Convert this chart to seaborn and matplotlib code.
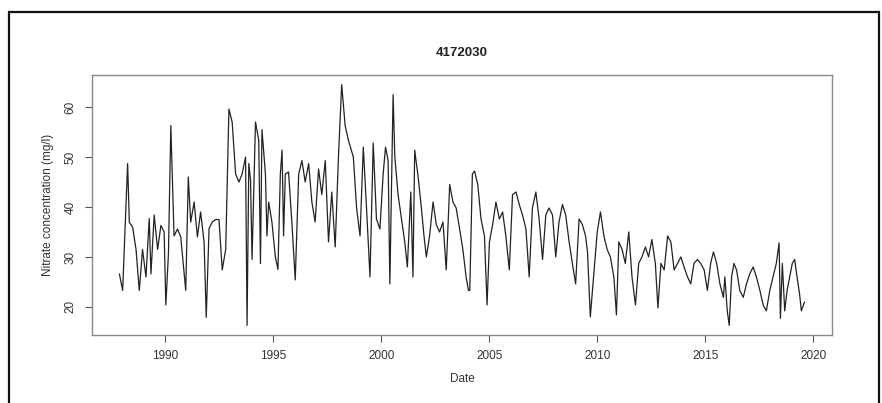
import matplotlib
matplotlib.use("Agg")
import matplotlib.pyplot as plt
import seaborn as sns
import pandas as pd
from matplotlib.patches import Rectangle

title = "4172030"
x_label = "Date"
y_label = "Nitrate concentration (mg/l)"
x_ticks = [1990, 1995, 2000, 2005, 2010, 2015, 2020]
y_ticks = [20, 30, 40, 50, 60]

dates = [
    1987.88, 1988.03, 1988.26, 1988.34, 1988.49, 1988.65, 1988.80, 1988.95, 1989.11, 1989.26,
    1989.34, 1989.49, 1989.65, 1989.80, 1989.95, 1990.03, 1990.15, 1990.26, 1990.41, 1990.57,
    1990.72, 1990.95, 1991.07, 1991.18, 1991.34, 1991.49, 1991.64, 1991.80, 1991.90, 1992.03,
    1992.18, 1992.34, 1992.49, 1992.64, 1992.80, 1992.95,
    1993.10, 1993.26, 1993.41, 1993.56, 1993.72, 1993.79, 1993.87, 1993.95, 1994.02, 1994.18,
    1994.33, 1994.41, 1994.48, 1994.64, 1994.71, 1994.79, 1994.94, 1995.10, 1995.22, 1995.33,
    1995.41, 1995.48, 1995.56, 1995.71, 1995.87, 1996.02, 1996.18, 1996.33, 1996.48, 1996.64,
    1996.79, 1996.94, 1997.10, 1997.25, 1997.41, 1997.56, 1997.71, 1997.87, 1998.02, 1998.17,
    1998.33, 1998.48,
    1998.71, 1998.86, 1999.02, 1999.17, 1999.32, 1999.48, 1999.63, 1999.78, 1999.94, 2000.09,
    2000.20, 2000.32, 2000.40, 2000.55, 2000.63, 2000.78, 2000.94, 2001.09, 2001.21, 2001.37,
    2001.47, 2001.55, 2001.71, 2001.86, 2001.98, 2002.09, 2002.24, 2002.40, 2002.55, 2002.70,
    2002.86, 2003.01, 2003.17, 2003.32, 2003.47, 2003.63, 2003.78, 2003.93, 2004.04, 2004.10,
    2004.22,
    2004.32, 2004.47, 2004.62, 2004.78, 2004.90, 2005.01, 2005.16, 2005.31, 2005.47, 2005.62,
    2005.77, 2005.93, 2006.08, 2006.24, 2006.39, 2006.54, 2006.70, 2006.85, 2007.00, 2007.16,
    2007.31, 2007.47, 2007.62, 2007.77, 2007.93, 2008.08, 2008.23, 2008.39, 2008.54, 2008.70,
    2008.85, 2009.00, 2009.16, 2009.31, 2009.46, 2009.55, 2009.68,
    2010.00, 2010.15, 2010.31, 2010.46, 2010.61, 2010.77, 2010.89, 2011.00, 2011.15, 2011.30,
    2011.46, 2011.61, 2011.77, 2011.92, 2012.07, 2012.23, 2012.38, 2012.53, 2012.69, 2012.81,
    2012.95, 2013.10, 2013.26, 2013.41, 2013.56, 2013.72, 2013.87, 2014.02, 2014.18, 2014.33,
    2014.48, 2014.64, 2014.79, 2014.95, 2015.10, 2015.25,
    2015.38, 2015.53, 2015.68, 2015.84, 2015.91, 2016.02, 2016.11, 2016.22, 2016.33, 2016.45,
    2016.60, 2016.76, 2016.91, 2017.06, 2017.22, 2017.37, 2017.53, 2017.68, 2017.83, 2017.99,
    2018.14, 2018.29, 2018.42, 2018.48, 2018.57, 2018.68, 2018.79, 2018.91, 2019.03, 2019.14,
    2019.25, 2019.37, 2019.45, 2019.60,
]

nitrate = [
    26.6, 23.3, 48.7, 36.9, 36.0, 31.5, 23.3, 31.5, 26.0, 37.7,
    26.6, 38.4, 31.5, 36.3, 35.0, 20.4, 30.7, 56.3, 34.2, 35.6,
    34.0, 23.3, 46.0, 37.0, 41.0, 34.0, 39.0, 33.0, 17.9, 35.7,
    37.0, 37.5, 37.5, 27.4, 31.5, 59.6,
    57.0, 46.6, 45.0, 46.6, 50.0, 16.3, 48.7, 45.5, 29.5, 57.0,
    53.4, 28.7, 55.5, 46.6, 34.2, 41.0, 37.0, 30.0, 27.5, 46.6,
    51.4, 34.2, 46.6, 47.0, 36.5, 25.4, 46.6, 49.3, 45.0, 48.7,
    41.0, 37.0, 47.6, 42.5, 49.3, 33.0, 43.0, 32.0, 50.0, 64.5,
    56.3, 53.4,
    50.0, 39.8, 34.2, 52.0, 39.8, 26.0, 52.8, 37.6, 35.6, 46.6,
    52.0, 49.3, 24.6, 62.5, 50.0, 42.5, 37.6, 33.0, 28.0, 43.0,
    26.0, 51.4, 46.0, 39.8, 34.2, 30.0, 34.2, 41.0, 36.5, 35.0,
    37.0, 27.4, 44.5, 41.0, 39.8, 35.6, 31.5, 26.0, 23.3, 23.3,
    46.6,
    47.2, 44.5, 37.6, 34.2, 20.4, 33.0, 36.5, 41.0, 37.6, 39.0,
    34.2, 27.4, 42.5, 43.0, 40.5, 38.4, 35.6, 26.0, 39.8, 43.0,
    37.6, 29.5, 38.4, 39.8, 38.4, 30.0, 37.0, 40.5, 38.4, 33.0,
    28.7, 24.6, 37.6, 36.5, 34.2, 31.0, 18.0,
    35.0, 39.0, 34.2, 31.5, 30.0, 26.0, 18.4, 33.0, 31.5, 28.7,
    35.0, 26.0, 20.4, 28.7, 30.0, 32.0, 30.0, 33.5, 28.7, 19.8,
    28.7, 27.4, 34.2, 33.0, 27.4, 28.7, 30.0, 28.0, 26.0, 24.6,
    28.7, 29.5, 28.7, 27.4, 23.3, 28.7,
    31.0, 28.7, 24.6, 21.9, 26.0, 19.2, 16.3, 26.0, 28.7, 27.4,
    23.3, 21.9, 24.6, 26.6, 28.0, 26.0, 23.3, 20.4, 19.2, 23.3,
    26.0, 28.7, 32.8, 17.7, 28.7, 19.2, 23.3, 26.0, 28.7, 29.5,
    26.0, 22.5, 19.2, 21.0,
]

df = pd.DataFrame({"Date": dates, "Nitrate": nitrate})

sns.set_theme(style="white")
plt.rcParams["font.family"] = ["Liberation Sans", "DejaVu Sans"]

fig = plt.figure(figsize=(8.82, 4.03), dpi=100)
ax = fig.add_axes([92 / 882, 1 - 335 / 403, (832 - 92) / 882, (335 - 75) / 403])

sns.lineplot(data=df, x="Date", y="Nitrate", ax=ax, color="#222222",
             linewidth=0.9, estimator=None, sort=False)

ax.margins(x=0.04, y=0.04)
ax.set_xticks(x_ticks)
ax.set_yticks(y_ticks)
ax.set_xticklabels([str(t) for t in x_ticks], fontsize=8.5, color="#333333")
ax.set_yticklabels([str(t) for t in y_ticks], fontsize=8.5, color="#333333",
                   rotation=90, va="center")
ax.set_xlabel(x_label, fontsize=8.5, color="#333333", labelpad=8)
ax.set_ylabel(y_label, fontsize=8.5, color="#333333", labelpad=8)
ax.set_title(title, fontsize=9.5, fontweight="bold", color="#222222", pad=14)

for s in ax.spines.values():
    s.set_visible(True)
    s.set_color("#888888")
    s.set_linewidth(1.0)
ax.tick_params(axis="both", which="both", direction="out", length=5, width=0.8,
               color="#555555", bottom=True, left=True, pad=6)
ax.grid(False)

border = Rectangle((9 / 882, -0.05), (879 - 9) / 882, 1.05 - 12 / 403,
                   transform=fig.transFigure, fill=False, edgecolor="#111111",
                   linewidth=1.6)
fig.patches.append(border)

fig.savefig("out.png", dpi=100, facecolor="white")
